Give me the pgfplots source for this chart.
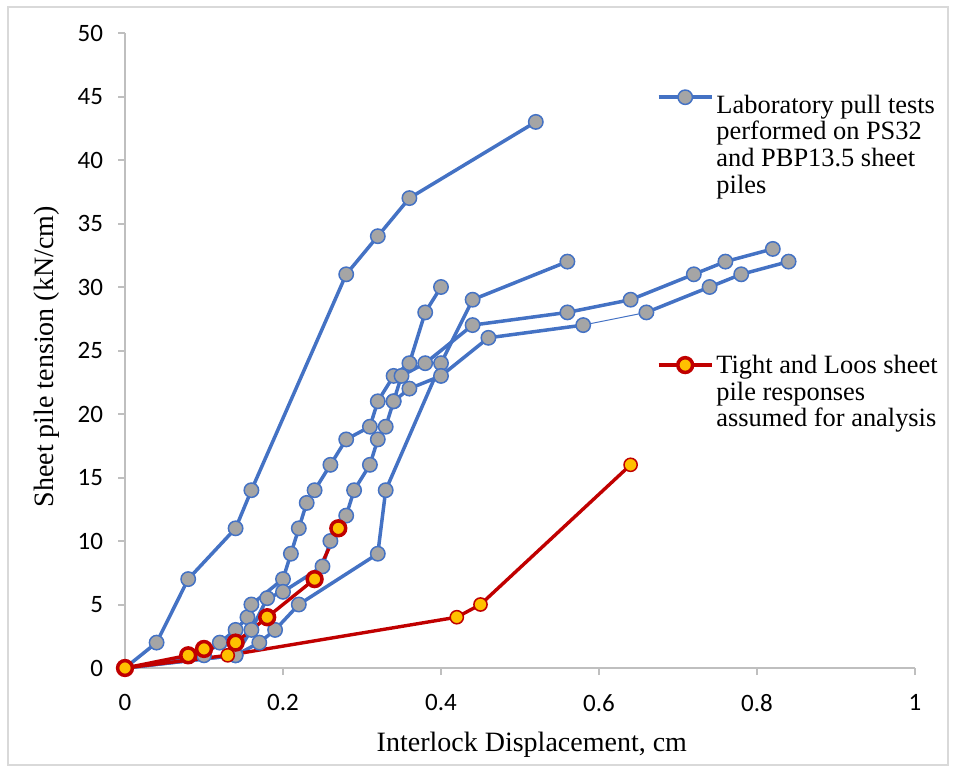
\documentclass[border=0pt]{standalone}
\usepackage{pgfplots}
\pgfplotsset{compat=1.18}
\usepackage{fontspec}
\setmainfont{Liberation Serif}
\newfontfamily\tickfont{Carlito}
\definecolor{blueline}{HTML}{4472C4}
\definecolor{graymark}{HTML}{A5A5A5}
\definecolor{redline}{HTML}{C00000}
\definecolor{goldmark}{HTML}{FFC000}
\definecolor{axisgray}{HTML}{BFBFBF}
\definecolor{framegray}{HTML}{D9D9D9}

\pgfplotsset{
  common/.style={
    width=395pt, height=317.5pt, scale only axis,
    xmin=0, xmax=1, ymin=0, ymax=50,
    at={(62.5pt,52pt)}, anchor=south west, clip=false,
  },
  bluestyle/.style={draw=blueline, line width=1.75pt, mark=*, mark size=3.6pt,
    mark options={fill=graymark, draw=blueline, line width=0.75pt, solid}},
  redA/.style={draw=redline, line width=1.7pt, mark=*, mark size=3.7pt,
    mark options={fill=goldmark, draw=redline, line width=1.75pt, solid}},
  redB/.style={draw=redline, line width=1.7pt, mark=*, mark size=3.3pt,
    mark options={fill=goldmark, draw=redline, line width=0.75pt, solid}},
}

\begin{document}
\begin{tikzpicture}
\path[use as bounding box] (0pt,0pt) rectangle (478pt,386pt);
\draw[framegray, line width=0.75pt] (4pt,3.5pt) rectangle (474pt,382.5pt);

\begin{axis}[common,
  axis lines=left,
  axis line style={-, draw=axisgray, line width=1pt},
  tick style={draw=axisgray, line width=1pt},
  tick align=outside, major tick length=3.5pt,
  xtick={0,0.2,0.4,0.6,0.8,1},
  ytick={0,5,10,15,20,25,30,35,40,45,50},
  /pgf/number format/assume math mode=true,
  tick label style={font=\tickfont\fontsize{12.5}{15}\selectfont, text=black},
  xticklabel shift=6.3pt, yticklabel shift=4pt,
  xlabel={Interlock Displacement, cm},
  ylabel={Sheet pile tension (kN/cm)},
  x label style={at={(axis description cs:0.515,-0.1213)}, anchor=center, font=\fontsize{14}{16}\selectfont},
  y label style={at={(axis description cs:-0.0985,0.49)}, anchor=center, font=\fontsize{14}{16}\selectfont},
  legend style={at={(axis description cs:0.6734,0.9102)}, anchor=north west, draw=none, fill=none,
    inner sep=0pt, outer sep=0pt, column sep=1.5pt, nodes={inner sep=0pt, outer sep=0pt}},
  legend cell align=left,
  legend image code/.code={
    \draw[#1, mark repeat=2, mark phase=2] plot coordinates {(0pt,4pt) (13.25pt,4pt) (26.5pt,4pt)};
  },
]
% Series A
\addplot[bluestyle] coordinates {(0,0) (0.04,2) (0.08,7) (0.14,11) (0.16,14) (0.28,31) (0.32,34) (0.36,37) (0.52,43)};
\addlegendentry{\fontsize{13.2}{13.35}\selectfont\begin{tabular}[t]{@{}l@{}}Laboratory pull tests\\performed on PS32\\and PBP13.5 sheet\\piles\end{tabular}}
% Series B
\addplot[bluestyle, forget plot] coordinates {(0,0) (0.10,1) (0.12,2) (0.14,3) (0.155,4) (0.16,5) (0.20,7) (0.21,9) (0.22,11) (0.23,13) (0.24,14) (0.26,16) (0.28,18) (0.31,19) (0.32,21) (0.34,23) (0.36,24) (0.38,28) (0.40,30)};
% Series C
\addplot[bluestyle, forget plot] coordinates {(0,0) (0.14,1) (0.17,2) (0.19,3) (0.22,5) (0.32,9) (0.33,14) (0.40,24) (0.44,29) (0.56,32)};
% Series D
\addplot[bluestyle, forget plot] coordinates {(0,0) (0.14,1) (0.16,3) (0.18,5.5) (0.20,6) (0.25,8) (0.26,10) (0.28,12) (0.29,14) (0.31,16) (0.32,18) (0.33,19) (0.34,21) (0.35,23) (0.38,24) (0.44,27) (0.56,28) (0.64,29) (0.72,31) (0.76,32) (0.82,33)};
% Series E (thin segment between 0.58 and 0.66)
\addplot[draw=blueline, line width=0.5pt, forget plot] coordinates {(0.58,27) (0.66,28)};
\addplot[bluestyle, forget plot] coordinates {(0.34,21) (0.36,22) (0.40,23) (0.46,26) (0.58,27)};
\addplot[bluestyle, forget plot] coordinates {(0.66,28) (0.74,30) (0.78,31) (0.84,32)};
% Red responses
\addplot[redB, forget plot] coordinates {(0,0) (0.13,1) (0.42,4) (0.45,5) (0.64,16)};
\addplot[redA, forget plot] coordinates {(0,0) (0.08,1) (0.10,1.5) (0.14,2) (0.18,4) (0.24,7) (0.27,11)};
\end{axis}

\begin{axis}[common, hide axis,
  legend style={at={(axis description cs:0.6734,0.4935)}, anchor=north west, draw=none, fill=none,
    inner sep=0pt, outer sep=0pt, column sep=1.5pt, nodes={inner sep=0pt, outer sep=0pt}},
  legend cell align=left,
  legend image code/.code={
    \draw[#1, mark repeat=2, mark phase=2] plot coordinates {(0pt,0.2pt) (13.25pt,0.2pt) (26.5pt,0.2pt)};
  },
]
\addlegendimage{redA}
\addlegendentry{\fontsize{13.2}{13.35}\selectfont\begin{tabular}[t]{@{}l@{}}Tight and Loos sheet\\pile responses\\assumed for analysis\end{tabular}}
\end{axis}
\end{tikzpicture}
\end{document}
